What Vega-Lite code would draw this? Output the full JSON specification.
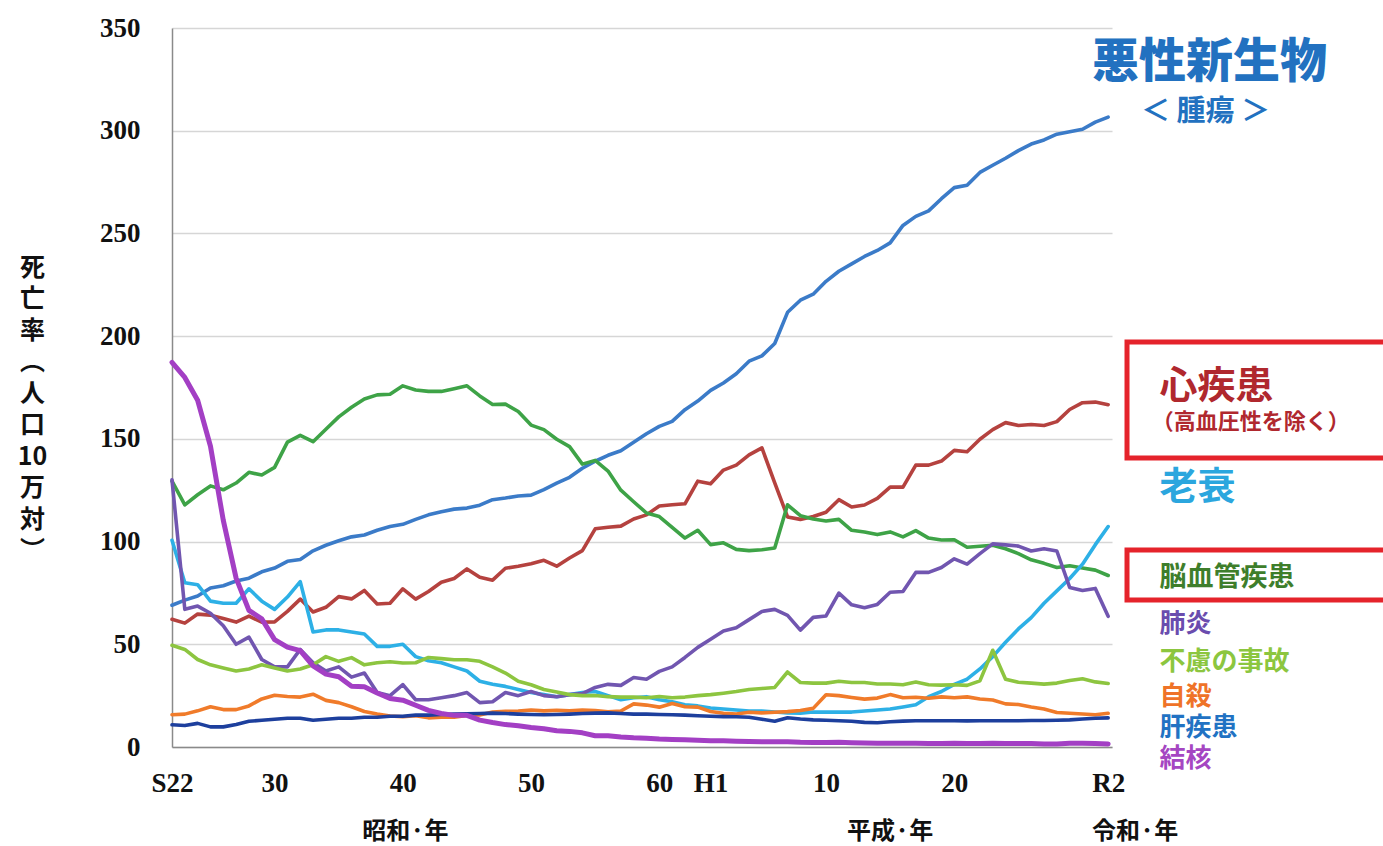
{
  "$schema": "https://vega.github.io/schema/vega-lite/v6.json",
  "width": 940,
  "height": 719,
  "autosize": {"type": "none"},
  "padding": {"left": 172, "top": 28, "right": 271, "bottom": 99},
  "background": "white",
  "config": {"view": {"stroke": null}, "font": "Noto Sans CJK JP"},
  "encoding": {
    "x": {
      "field": "year", "type": "quantitative",
      "scale": {"domain": [1947, 2020.3], "nice": false, "zero": false},
      "axis": {
        "values": [1947, 1955, 1965, 1975, 1985, 1989, 1998, 2008, 2020],
        "labelExpr": "datum.value==1947?'S22':datum.value==1955?'30':datum.value==1965?'40':datum.value==1975?'50':datum.value==1985?'60':datum.value==1989?'H1':datum.value==1998?'10':datum.value==2008?'20':'R2'",
        "title": null, "grid": false, "ticks": false, "tickSize": 0,
        "domainColor": "#8a8a8a", "domainWidth": 1.5,
        "labelFont": "Liberation Serif", "labelFontWeight": "bold", "labelFontSize": 27,
        "labelColor": "#111111", "labelPadding": 23, "labelFlush": false, "labelOverlap": false, "labelBaseline": "top"
      }
    },
    "y": {
      "field": "rate", "type": "quantitative",
      "scale": {"domain": [0, 350], "nice": false, "zero": false},
      "axis": {
        "values": [0, 50, 100, 150, 200, 250, 300, 350],
        "title": ["死", "亡", "率", "︵", "人", "口", "10", "万", "対", "︶"],
        "titleAngle": 0, "titleX": -140, "titleY": 239, "titleAlign": "center", "titleBaseline": "middle",
        "titleFont": "Noto Sans CJK JP", "titleFontSize": 25, "titleFontWeight": "bold", "titleLineHeight": 31.5, "titleColor": "#111111",
        "grid": true, "gridColor": "#d6d6d6", "gridWidth": 1.5,
        "ticks": false, "tickSize": 0,
        "domainColor": "#8a8a8a", "domainWidth": 1.5,
        "labelFont": "Liberation Serif", "labelFontWeight": "bold", "labelFontSize": 27,
        "labelColor": "#111111", "labelPadding": 32
      }
    }
  },
  "layer": [
    {
      "data": {"values": [
        {"year":1947,"悪性新生物":69.0,"心疾患":62.2,"脳血管疾患":129.4,"老衰":100.6,"肺炎":130.1,"不慮の事故":49.5,"自殺":15.7,"肝疾患":10.8,"結核":187.2},
        {"year":1948,"悪性新生物":71.5,"心疾患":60.3,"脳血管疾患":117.9,"老衰":80.0,"肺炎":67.0,"不慮の事故":47.5,"自殺":16.0,"肝疾患":10.5,"結核":179.9},
        {"year":1949,"悪性新生物":73.5,"心疾患":64.7,"脳血管疾患":122.8,"老衰":79.0,"肺炎":68.6,"不慮の事故":42.6,"自殺":17.6,"肝疾患":11.5,"結核":168.8},
        {"year":1950,"悪性新生物":77.4,"心疾患":64.2,"脳血管疾患":127.1,"老衰":71.0,"肺炎":65.1,"不慮の事故":40.0,"自殺":19.6,"肝疾患":9.8,"結核":146.4},
        {"year":1951,"悪性新生物":78.5,"心疾患":62.5,"脳血管疾患":125.2,"老衰":70.0,"肺炎":59.0,"不慮の事故":38.5,"自殺":18.2,"肝疾患":9.8,"結核":110.3},
        {"year":1952,"悪性新生物":80.8,"心疾患":60.8,"脳血管疾患":128.5,"老衰":70.0,"肺炎":50.0,"不慮の事故":37.0,"自殺":18.2,"肝疾患":11.0,"結核":82.2},
        {"year":1953,"悪性新生物":82.2,"心疾患":63.7,"脳血管疾患":133.7,"老衰":77.0,"肺炎":53.5,"不慮の事故":38.0,"自殺":20.0,"肝疾患":12.5,"結核":66.5},
        {"year":1954,"悪性新生物":85.3,"心疾患":60.8,"脳血管疾患":132.4,"老衰":71.0,"肺炎":42.6,"不慮の事故":40.0,"自殺":23.4,"肝疾患":13.0,"結核":62.4},
        {"year":1955,"悪性新生物":87.1,"心疾患":60.9,"脳血管疾患":136.1,"老衰":67.0,"肺炎":39.0,"不慮の事故":38.5,"自殺":25.2,"肝疾患":13.5,"結核":52.3},
        {"year":1956,"悪性新生物":90.4,"心疾患":66.0,"脳血管疾患":148.4,"老衰":73.0,"肺炎":39.0,"不慮の事故":37.0,"自殺":24.6,"肝疾患":14.0,"結核":48.6},
        {"year":1957,"悪性新生物":91.3,"心疾患":72.0,"脳血管疾患":151.7,"老衰":80.5,"肺炎":47.5,"不慮の事故":38.0,"自殺":24.3,"肝疾患":14.0,"結核":46.9},
        {"year":1958,"悪性新生物":95.5,"心疾患":65.7,"脳血管疾患":148.6,"老衰":56.0,"肺炎":41.0,"不慮の事故":40.0,"自殺":25.7,"肝疾患":13.0,"結核":39.5},
        {"year":1959,"悪性新生物":98.2,"心疾患":68.0,"脳血管疾患":154.7,"老衰":57.0,"肺炎":37.0,"不慮の事故":44.0,"自殺":22.7,"肝疾患":13.5,"結核":35.5},
        {"year":1960,"悪性新生物":100.4,"心疾患":73.2,"脳血管疾患":160.7,"老衰":57.0,"肺炎":39.0,"不慮の事故":41.7,"自殺":21.6,"肝疾患":14.0,"結核":34.2},
        {"year":1961,"悪性新生物":102.3,"心疾患":72.1,"脳血管疾患":165.4,"老衰":56.0,"肺炎":34.0,"不慮の事故":43.5,"自殺":19.6,"肝疾患":14.0,"結核":29.6},
        {"year":1962,"悪性新生物":103.2,"心疾患":76.2,"脳血管疾患":169.4,"老衰":55.0,"肺炎":36.0,"不慮の事故":40.0,"自殺":17.3,"肝疾患":14.5,"結核":29.3},
        {"year":1963,"悪性新生物":105.5,"心疾患":69.6,"脳血管疾患":171.4,"老衰":49.0,"肺炎":26.5,"不慮の事故":41.0,"自殺":16.1,"肝疾患":14.5,"結核":26.3},
        {"year":1964,"悪性新生物":107.3,"心疾患":70.0,"脳血管疾患":171.7,"老衰":49.0,"肺炎":25.0,"不慮の事故":41.5,"自殺":15.1,"肝疾患":15.0,"結核":23.6},
        {"year":1965,"悪性新生物":108.4,"心疾患":77.0,"脳血管疾患":175.8,"老衰":50.0,"肺炎":30.4,"不慮の事故":40.9,"自殺":14.7,"肝疾患":15.0,"結核":22.8},
        {"year":1966,"悪性新生物":110.8,"心疾患":72.0,"脳血管疾患":173.8,"老衰":44.0,"肺炎":23.0,"不慮の事故":41.0,"自殺":15.2,"肝疾患":15.5,"結核":20.3},
        {"year":1967,"悪性新生物":113.0,"心疾患":75.7,"脳血管疾患":173.1,"老衰":42.0,"肺炎":23.0,"不慮の事故":43.6,"自殺":14.2,"肝疾患":15.5,"結核":17.8},
        {"year":1968,"悪性新生物":114.5,"心疾患":80.2,"脳血管疾患":173.1,"老衰":41.0,"肺炎":24.0,"不慮の事故":43.0,"自殺":14.5,"肝疾患":15.8,"結核":16.3},
        {"year":1969,"悪性新生物":115.8,"心疾患":82.0,"脳血管疾患":174.4,"老衰":39.0,"肺炎":25.0,"不慮の事故":42.5,"自殺":14.5,"肝疾患":16.0,"結核":15.4},
        {"year":1970,"悪性新生物":116.3,"心疾患":86.7,"脳血管疾患":175.8,"老衰":37.0,"肺炎":26.5,"不慮の事故":42.5,"自殺":15.3,"肝疾患":16.2,"結核":15.4},
        {"year":1971,"悪性新生物":117.7,"心疾患":82.6,"脳血管疾患":170.9,"老衰":32.0,"肺炎":21.6,"不慮の事故":41.7,"自殺":15.6,"肝疾患":16.3,"結核":13.1},
        {"year":1972,"悪性新生物":120.4,"心疾患":81.2,"脳血管疾患":166.7,"老衰":30.5,"肺炎":22.0,"不慮の事故":39.0,"自殺":17.0,"肝疾患":16.5,"結核":11.9},
        {"year":1973,"悪性新生物":121.2,"心疾患":87.0,"脳血管疾患":166.9,"老衰":29.5,"肺炎":26.5,"不慮の事故":36.0,"自殺":17.4,"肝疾患":16.3,"結核":10.9},
        {"year":1974,"悪性新生物":122.2,"心疾患":88.0,"脳血管疾患":163.3,"老衰":28.0,"肺炎":25.0,"不慮の事故":32.0,"自殺":17.5,"肝疾患":16.0,"結核":10.3},
        {"year":1975,"悪性新生物":122.6,"心疾患":89.2,"脳血管疾患":156.7,"老衰":26.5,"肺炎":27.0,"不慮の事故":30.3,"自殺":18.0,"肝疾患":15.8,"結核":9.5},
        {"year":1976,"悪性新生物":125.3,"心疾患":90.9,"脳血管疾患":154.5,"老衰":25.5,"肺炎":25.0,"不慮の事故":28.0,"自殺":17.6,"肝疾患":15.7,"結核":8.9},
        {"year":1977,"悪性新生物":128.4,"心疾患":88.0,"脳血管疾患":149.8,"老衰":24.5,"肺炎":24.5,"不慮の事故":26.8,"自殺":17.9,"肝疾患":15.8,"結核":7.9},
        {"year":1978,"悪性新生物":131.3,"心疾患":92.0,"脳血管疾患":146.2,"老衰":25.5,"肺炎":25.5,"不慮の事故":25.5,"自殺":17.6,"肝疾患":16.0,"結核":7.6},
        {"year":1979,"悪性新生物":135.7,"心疾患":95.6,"脳血管疾患":137.7,"老衰":26.5,"肺炎":26.0,"不慮の事故":25.0,"自殺":18.0,"肝疾患":16.3,"結核":6.9},
        {"year":1980,"悪性新生物":139.1,"心疾患":106.2,"脳血管疾患":139.5,"老衰":27.0,"肺炎":29.0,"不慮の事故":25.1,"自殺":17.7,"肝疾患":16.5,"結核":5.5},
        {"year":1981,"悪性新生物":142.0,"心疾患":107.0,"脳血管疾患":134.3,"老衰":25.0,"肺炎":30.5,"不慮の事故":24.5,"自殺":17.1,"肝疾患":16.6,"結核":5.5},
        {"year":1982,"悪性新生物":144.2,"心疾患":107.5,"脳血管疾患":125.0,"老衰":23.0,"肺炎":30.0,"不慮の事故":24.3,"自殺":17.5,"肝疾患":16.3,"結核":4.9},
        {"year":1983,"悪性新生物":148.3,"心疾患":111.0,"脳血管疾患":119.4,"老衰":24.0,"肺炎":33.8,"不慮の事故":24.3,"自殺":21.0,"肝疾患":16.0,"結核":4.5},
        {"year":1984,"悪性新生物":152.5,"心疾患":113.0,"脳血管疾患":113.9,"老衰":24.5,"肺炎":33.0,"不慮の事故":24.0,"自殺":20.4,"肝疾患":16.0,"結核":4.3},
        {"year":1985,"悪性新生物":156.1,"心疾患":117.3,"脳血管疾患":112.2,"老衰":23.0,"肺炎":36.8,"不慮の事故":24.6,"自殺":19.4,"肝疾患":15.8,"結核":3.9},
        {"year":1986,"悪性新生物":158.5,"心疾患":117.9,"脳血管疾患":106.9,"老衰":22.0,"肺炎":39.0,"不慮の事故":24.0,"自殺":21.2,"肝疾患":15.7,"結核":3.7},
        {"year":1987,"悪性新生物":164.2,"心疾患":118.4,"脳血管疾患":101.7,"老衰":20.6,"肺炎":43.6,"不慮の事故":24.3,"自殺":19.6,"肝疾患":15.5,"結核":3.5},
        {"year":1988,"悪性新生物":168.4,"心疾患":129.4,"脳血管疾患":105.5,"老衰":20.0,"肺炎":48.5,"不慮の事故":25.0,"自殺":19.4,"肝疾患":15.2,"結核":3.3},
        {"year":1989,"悪性新生物":173.6,"心疾患":128.1,"脳血管疾患":98.5,"老衰":19.0,"肺炎":52.5,"不慮の事故":25.5,"自殺":17.3,"肝疾患":15.0,"結核":3.1},
        {"year":1990,"悪性新生物":177.2,"心疾患":134.8,"脳血管疾患":99.4,"老衰":18.5,"肺炎":56.5,"不慮の事故":26.2,"自殺":16.4,"肝疾患":14.8,"結核":3.0},
        {"year":1991,"悪性新生物":181.7,"心疾患":137.2,"脳血管疾患":96.2,"老衰":18.0,"肺炎":58.0,"不慮の事故":27.0,"自殺":16.1,"肝疾患":14.7,"結核":2.8},
        {"year":1992,"悪性新生物":187.8,"心疾患":142.2,"脳血管疾患":95.6,"老衰":17.5,"肺炎":62.0,"不慮の事故":28.0,"自殺":16.9,"肝疾患":14.5,"結核":2.7},
        {"year":1993,"悪性新生物":190.4,"心疾患":145.6,"脳血管疾患":96.0,"老衰":17.5,"肺炎":66.0,"不慮の事故":28.5,"自殺":16.6,"肝疾患":13.5,"結核":2.6},
        {"year":1994,"悪性新生物":196.4,"心疾患":128.6,"脳血管疾患":96.9,"老衰":17.0,"肺炎":67.0,"不慮の事故":29.0,"自殺":16.9,"肝疾患":12.5,"結核":2.6},
        {"year":1995,"悪性新生物":211.6,"心疾患":112.0,"脳血管疾患":117.9,"老衰":16.6,"肺炎":64.1,"不慮の事故":36.5,"自殺":17.2,"肝疾患":14.2,"結核":2.6},
        {"year":1996,"悪性新生物":217.5,"心疾患":110.8,"脳血管疾患":112.6,"老衰":16.5,"肺炎":56.9,"不慮の事故":31.4,"自殺":17.8,"肝疾患":13.6,"結核":2.3},
        {"year":1997,"悪性新生物":220.4,"心疾患":112.2,"脳血管疾患":111.0,"老衰":17.0,"肺炎":63.1,"不慮の事故":31.1,"自殺":18.8,"肝疾患":13.2,"結核":2.2},
        {"year":1998,"悪性新生物":226.7,"心疾患":114.3,"脳血管疾患":110.0,"老衰":17.0,"肺炎":63.8,"不慮の事故":31.1,"自殺":25.4,"肝疾患":13.0,"結核":2.2},
        {"year":1999,"悪性新生物":231.6,"心疾患":120.4,"脳血管疾患":110.8,"老衰":17.0,"肺炎":74.9,"不慮の事故":32.0,"自殺":25.0,"肝疾患":12.8,"結核":2.3},
        {"year":2000,"悪性新生物":235.2,"心疾患":116.8,"脳血管疾患":105.5,"老衰":17.0,"肺炎":69.2,"不慮の事故":31.4,"自殺":24.1,"肝疾患":12.5,"結核":2.1},
        {"year":2001,"悪性新生物":238.8,"心疾患":117.8,"脳血管疾患":104.7,"老衰":17.5,"肺炎":67.8,"不慮の事故":31.4,"自殺":23.3,"肝疾患":12.0,"結核":2.0},
        {"year":2002,"悪性新生物":241.7,"心疾患":121.0,"脳血管疾患":103.4,"老衰":18.0,"肺炎":69.4,"不慮の事故":30.7,"自殺":23.8,"肝疾患":11.8,"結核":1.8},
        {"year":2003,"悪性新生物":245.4,"心疾患":126.5,"脳血管疾患":104.7,"老衰":18.5,"肺炎":75.3,"不慮の事故":30.7,"自殺":25.5,"肝疾患":12.3,"結核":1.8},
        {"year":2004,"悪性新生物":253.9,"心疾患":126.5,"脳血管疾患":102.3,"老衰":19.5,"肺炎":75.7,"不慮の事故":30.3,"自殺":24.0,"肝疾患":12.6,"結核":1.8},
        {"year":2005,"悪性新生物":258.3,"心疾患":137.2,"脳血管疾患":105.3,"老衰":20.6,"肺炎":85.0,"不慮の事故":31.6,"自殺":24.2,"肝疾患":12.8,"結核":1.8},
        {"year":2006,"悪性新生物":261.0,"心疾患":137.2,"脳血管疾患":101.7,"老衰":24.5,"肺炎":85.0,"不慮の事故":30.3,"自殺":23.7,"肝疾患":12.8,"結核":1.7},
        {"year":2007,"悪性新生物":266.9,"心疾患":139.2,"脳血管疾患":100.8,"老衰":27.0,"肺炎":87.4,"不慮の事故":30.1,"自殺":24.4,"肝疾患":12.8,"結核":1.7},
        {"year":2008,"悪性新生物":272.3,"心疾患":144.4,"脳血管疾患":100.9,"老衰":30.5,"肺炎":91.6,"不慮の事故":30.3,"自殺":24.0,"肝疾患":12.8,"結核":1.8},
        {"year":2009,"悪性新生物":273.5,"心疾患":143.7,"脳血管疾患":97.2,"老衰":33.0,"肺炎":89.0,"不慮の事故":30.0,"自殺":24.4,"肝疾患":12.7,"結核":1.7},
        {"year":2010,"悪性新生物":279.7,"心疾患":149.8,"脳血管疾患":97.7,"老衰":38.0,"肺炎":94.1,"不慮の事故":32.2,"自殺":23.4,"肝疾患":12.8,"結核":1.7},
        {"year":2011,"悪性新生物":283.2,"心疾患":154.5,"脳血管疾患":98.2,"老衰":44.0,"肺炎":98.9,"不慮の事故":47.1,"自殺":22.9,"肝疾患":12.8,"結核":1.8},
        {"year":2012,"悪性新生物":286.6,"心疾患":157.9,"脳血管疾患":96.5,"老衰":51.0,"肺炎":98.4,"不慮の事故":33.0,"自殺":21.0,"肝疾患":12.8,"結核":1.7},
        {"year":2013,"悪性新生物":290.3,"心疾患":156.5,"脳血管疾患":94.1,"老衰":57.5,"肺炎":97.8,"不慮の事故":31.5,"自殺":20.7,"肝疾患":12.8,"結核":1.7},
        {"year":2014,"悪性新生物":293.5,"心疾患":157.0,"脳血管疾患":91.1,"老衰":63.0,"肺炎":95.4,"不慮の事故":31.1,"自殺":19.5,"肝疾患":12.9,"結核":1.7},
        {"year":2015,"悪性新生物":295.5,"心疾患":156.5,"脳血管疾患":89.4,"老衰":70.0,"肺炎":96.5,"不慮の事故":30.6,"自殺":18.5,"肝疾患":12.9,"結核":1.5},
        {"year":2016,"悪性新生物":298.3,"心疾患":158.4,"脳血管疾患":87.4,"老衰":76.0,"肺炎":95.4,"不慮の事故":31.1,"自殺":16.8,"肝疾患":13.0,"結核":1.5},
        {"year":2017,"悪性新生物":299.5,"心疾患":164.3,"脳血管疾患":88.2,"老衰":82.0,"肺炎":77.7,"不慮の事故":32.4,"自殺":16.4,"肝疾患":13.2,"結核":1.8},
        {"year":2018,"悪性新生物":300.7,"心疾患":167.6,"脳血管疾患":87.1,"老衰":89.0,"肺炎":76.2,"不慮の事故":33.2,"自殺":16.1,"肝疾患":13.6,"結核":1.8},
        {"year":2019,"悪性新生物":304.2,"心疾患":167.9,"脳血管疾患":86.1,"老衰":98.5,"肺炎":77.2,"不慮の事故":31.7,"自殺":15.7,"肝疾患":14.0,"結核":1.7},
        {"year":2020,"悪性新生物":306.6,"心疾患":166.6,"脳血管疾患":83.5,"老衰":107.3,"肺炎":63.6,"不慮の事故":30.9,"自殺":16.4,"肝疾患":14.2,"結核":1.5}
      ]},
      "transform": [{"fold": ["悪性新生物", "心疾患", "脳血管疾患", "老衰", "肺炎", "不慮の事故", "自殺", "肝疾患", "結核"], "as": ["cause", "rate"]}],
      "mark": {"type": "line", "strokeJoin": "round", "strokeCap": "round"},
      "encoding": {
        "color": {
          "field": "cause", "type": "nominal", "legend": null,
          "scale": {
            "domain": ["悪性新生物", "心疾患", "脳血管疾患", "老衰", "肺炎", "不慮の事故", "自殺", "肝疾患", "結核"],
            "range": ["#3b7bc8", "#b5423f", "#3ea347", "#2db0e6", "#7156b0", "#8dc540", "#f07b2a", "#1d3f9d", "#a33fc4"]
          }
        },
        "strokeWidth": {"condition": {"test": "datum.cause === '結核'", "value": 5}, "value": 3.6}
      }
    },
    {
      "data": {"values": [{"label": "悪性新生物", "year": 2027.9, "rate": 333}]},
      "mark": {"type": "text", "align": "center", "baseline": "middle", "font": "Noto Sans CJK JP", "fontSize": 47, "fontWeight": 900, "color": "#2271c0"},
      "encoding": {"text": {"field": "label"}}
    },
    {
      "data": {"values": [{"label": "＜ 腫瘍 ＞", "year": 2027.6, "rate": 309}]},
      "mark": {"type": "text", "align": "center", "baseline": "middle", "font": "Noto Sans CJK JP", "fontSize": 29, "fontWeight": "bold", "color": "#2271c0"},
      "encoding": {"text": {"field": "label"}}
    },
    {
      "data": {"values": [{"label": "心疾患", "year": 2024.0, "rate": 175.3}]},
      "mark": {"type": "text", "align": "left", "baseline": "middle", "font": "Noto Sans CJK JP", "fontSize": 38, "fontWeight": "bold", "color": "#b0282e"},
      "encoding": {"text": {"field": "label"}}
    },
    {
      "data": {"values": [{"label": "（高血圧性を除く）", "year": 2023.4, "rate": 158.2}]},
      "mark": {"type": "text", "align": "left", "baseline": "middle", "font": "Noto Sans CJK JP", "fontSize": 22, "fontWeight": "bold", "color": "#b0282e"},
      "encoding": {"text": {"field": "label"}}
    },
    {
      "data": {"values": [{"label": "老衰", "year": 2024.0, "rate": 126.1}]},
      "mark": {"type": "text", "align": "left", "baseline": "middle", "font": "Noto Sans CJK JP", "fontSize": 38, "fontWeight": "bold", "color": "#2ba6de"},
      "encoding": {"text": {"field": "label"}}
    },
    {
      "data": {"values": [{"label": "脳血管疾患", "year": 2024.0, "rate": 82.3}]},
      "mark": {"type": "text", "align": "left", "baseline": "middle", "font": "Noto Sans CJK JP", "fontSize": 27, "fontWeight": "bold", "color": "#3e7e2b"},
      "encoding": {"text": {"field": "label"}}
    },
    {
      "data": {"values": [{"label": "肺炎", "year": 2024.0, "rate": 59.9}]},
      "mark": {"type": "text", "align": "left", "baseline": "middle", "font": "Noto Sans CJK JP", "fontSize": 26, "fontWeight": "bold", "color": "#6a4cae"},
      "encoding": {"text": {"field": "label"}}
    },
    {
      "data": {"values": [{"label": "不慮の事故", "year": 2024.0, "rate": 41.4}]},
      "mark": {"type": "text", "align": "left", "baseline": "middle", "font": "Noto Sans CJK JP", "fontSize": 26, "fontWeight": "bold", "color": "#8cc63f"},
      "encoding": {"text": {"field": "label"}}
    },
    {
      "data": {"values": [{"label": "自殺", "year": 2024.0, "rate": 24.3}]},
      "mark": {"type": "text", "align": "left", "baseline": "middle", "font": "Noto Sans CJK JP", "fontSize": 26, "fontWeight": "bold", "color": "#ef7328"},
      "encoding": {"text": {"field": "label"}}
    },
    {
      "data": {"values": [{"label": "肝疾患", "year": 2024.0, "rate": 9.25}]},
      "mark": {"type": "text", "align": "left", "baseline": "middle", "font": "Noto Sans CJK JP", "fontSize": 26, "fontWeight": "bold", "color": "#2172c3"},
      "encoding": {"text": {"field": "label"}}
    },
    {
      "data": {"values": [{"label": "結核", "year": 2024.0, "rate": -5.8}]},
      "mark": {"type": "text", "align": "left", "baseline": "middle", "font": "Noto Sans CJK JP", "fontSize": 26, "fontWeight": "bold", "color": "#a546c2"},
      "encoding": {"text": {"field": "label"}}
    },
    {
      "data": {"values": [
        {"label": "昭和·年", "year": 1965.2, "rate": -41.4},
        {"label": "平成·年", "year": 2003.0, "rate": -41.4},
        {"label": "令和·年", "year": 2022.1, "rate": -41.4}
      ]},
      "mark": {"type": "text", "align": "center", "baseline": "middle", "font": "Noto Sans CJK JP", "fontSize": 24, "fontWeight": "bold", "color": "#111111"},
      "encoding": {"text": {"field": "label"}}
    },
    {
      "data": {"values": [
        {"box": "心疾患", "year": 2021.47, "year2": 2042.0, "rate": 197.2, "rate2": 140.7},
        {"box": "脳血管疾患", "year": 2021.47, "year2": 2042.0, "rate": 95.9, "rate2": 71.6}
      ]},
      "mark": {"type": "rect", "filled": false, "stroke": "#e5232b", "strokeWidth": 5},
      "encoding": {"x2": {"field": "year2"}, "y2": {"field": "rate2"}}
    }
  ]
}
